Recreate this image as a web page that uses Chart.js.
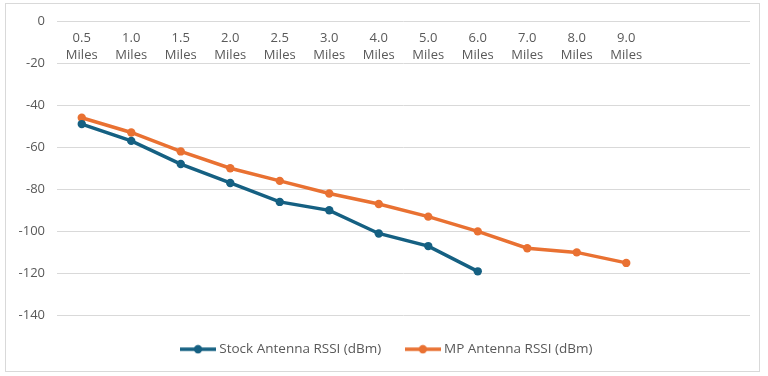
<!DOCTYPE html>
<html lang="en">
<head>
  <meta charset="UTF-8">
  <title>Antenna RSSI vs Distance</title>
  <script src="https://cdn.jsdelivr.net/npm/chart.js"></script>
  <style>
    body { margin: 0; background: #fff; }
    #frame { position: absolute; left: 5px; top: 3px; width: 753px; height: 367px; border: 1px solid #d9d9d9; }
    #wrap { position: absolute; left: 0; top: 0; width: 768px; height: 376px; }
  </style>
</head>
<body>
  <div id="frame"></div>
  <div id="wrap"><canvas id="rssiChart"></canvas></div>
  <script>
    // distances in miles (two trailing empty slots like the source sheet)
    const distances = ['0.5', '1.0', '1.5', '2.0', '2.5', '3.0', '4.0', '5.0', '6.0', '7.0', '8.0', '9.0', '', '']
    const stockRssi = [-49, -57, -68, -77, -86, -90, -101, -107, -119]
    const mpRssi = [-46, -53, -62, -70, -76, -82, -87, -93, -100, -108, -110, -115]
    const yTicks = [0, -20, -40, -60, -80, -100, -120, -140]

    const stockColor = '#156082'
    const mpColor = '#E97132'
    const textColor = '#595959'
    const fontFamily = '"Open Sans", "Liberation Sans", sans-serif'

    const labels = distances.map(d => d ? [d, 'Miles'] : '')

    // legend swatch: short line with a marker in the middle
    const legendSwatch = (color) => {
      const c = document.createElement('canvas')
      c.width = 36
      c.height = 10
      const ctx = c.getContext('2d')
      ctx.strokeStyle = color
      ctx.lineWidth = 3.5
      ctx.beginPath()
      ctx.moveTo(0, 5)
      ctx.lineTo(36, 5)
      ctx.stroke()
      ctx.fillStyle = color
      ctx.beginPath()
      ctx.arc(18, 5, 4.2, 0, Math.PI * 2)
      ctx.fill()
      return c
    }
    const swatches = [legendSwatch(stockColor), legendSwatch(mpColor)]

    new Chart(document.getElementById('rssiChart').getContext('2d'), {
      type: 'line',
      data: {
        labels: labels,
        datasets: [
          {
            label: 'Stock Antenna RSSI (dBm)',
            data: stockRssi,
            borderColor: stockColor,
            backgroundColor: stockColor,
            borderWidth: 3.5,
            pointRadius: 4.2,
            pointBorderWidth: 0,
            tension: 0
          },
          {
            label: 'MP Antenna RSSI (dBm)',
            data: mpRssi,
            borderColor: mpColor,
            backgroundColor: mpColor,
            borderWidth: 3.5,
            pointRadius: 4.2,
            pointBorderWidth: 0,
            tension: 0
          }
        ]
      },
      options: {
        responsive: true,
        maintainAspectRatio: false,
        animation: false,
        layout: {
          padding: { top: 21, left: 12, right: 4, bottom: 10 }
        },
        scales: {
          x: {
            type: 'category',
            position: { y: 0 },
            offset: true,
            grid: { display: false, drawTicks: false },
            border: { display: false },
            ticks: {
              color: textColor,
              font: { family: fontFamily, size: 13, lineHeight: 1.3 },
              padding: 8.5,
              autoSkip: false,
              maxRotation: 0
            }
          },
          y: {
            min: Math.min(...yTicks),
            max: Math.max(...yTicks),
            afterFit: (scale) => { scale.width = 45 },
            afterBuildTicks: (scale) => { scale.ticks = yTicks.map(v => ({ value: v })) },
            grid: { color: '#d9d9d9', lineWidth: 1, drawTicks: false },
            border: { display: false },
            ticks: {
              color: textColor,
              font: { family: fontFamily, size: 13 },
              padding: 12
            }
          },
          // empty right-hand strip, only there so the legend sits a bit right of centre
          yRight: {
            position: 'right',
            min: Math.min(...yTicks),
            max: Math.max(...yTicks),
            afterFit: (scale) => { scale.width = 14 },
            grid: { display: false },
            border: { display: false },
            ticks: { display: false }
          }
        },
        plugins: {
          tooltip: { enabled: false },
          legend: {
            position: 'bottom',
            labels: {
              color: textColor,
              font: { family: fontFamily, size: 13.5 },
              usePointStyle: true,
              pointStyleWidth: 29,
              padding: 27,
              generateLabels: (chart) => {
                const items = Chart.defaults.plugins.legend.labels.generateLabels(chart)
                items.forEach((item, i) => { item.pointStyle = swatches[i] })
                return items
              }
            }
          }
        }
      }
    })
  </script>
</body>
</html>
